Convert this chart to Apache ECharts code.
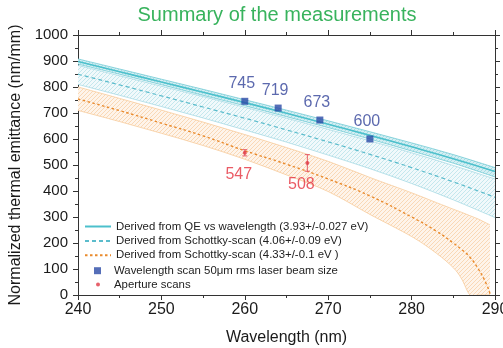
<!DOCTYPE html>
<html><head><meta charset="utf-8">
<script src="https://cdn.jsdelivr.net/npm/echarts/dist/echarts.min.js"></script>
<style>html,body{margin:0;padding:0;background:#fff}#c{width:503px;height:348px}</style>
</head><body><div id="c"></div>
<script>
// ---- data ----
const wl      = [240, 245, 250, 255, 260, 265, 270, 275, 280, 285, 290];
const qeMid   = [898, 859, 819, 780, 740, 699, 657, 614, 570, 524, 475];
const qeHi    = [908, 869, 830, 791, 751, 711, 670, 628, 585, 540, 490];
const qeLo    = [888, 849, 809, 768, 728, 686, 644, 600, 554, 507, 454];
const s1Mid   = [849, 808, 766, 723, 680, 635, 589, 541, 490, 435, 376];
const s1Hi    = [883, 843, 803, 763, 722, 680, 637, 593, 547, 498, 446];
const s1Lo    = [810, 768, 725, 681, 635, 588, 538, 486, 429, 366, 298];
const owl     = [240, 245, 250, 255, 260, 265, 270, 275, 280, 283, 285, 286, 287, 288, 289, 289.4];
const oMid    = [754, 709, 661, 612, 555, 503, 446, 381, 300, 245, 200, 175, 145, 100, 40, 5];
const oHi     = [800, 756, 711, 665, 617, 567, 514, 452, 393, 355, 330, 318, 305, 292, 276, 270];
const oLo     = [710, 667, 622, 575, 522, 462, 398, 310, 225, 160, 105, 62, 0, 0, 0, 0];
const wsX     = [260, 264, 269, 275];
const wsY     = [745, 719, 673, 600];
const apX     = [260, 267.5];
const apY     = [547, 508];
const apLo    = [535, 476];
const apHi    = [559, 540];
const xTicks  = [240, 250, 260, 270, 280, 290];
const yTicks  = [0, 100, 200, 300, 400, 500, 600, 700, 800, 900, 1000];

const L1 = 'Derived from QE vs wavelength (3.93+/-0.027 eV)';
const L2 = 'Derived from Schottky-scan (4.06+/-0.09 eV)';
const L3 = 'Derived from Schottky-scan (4.33+/-0.1 eV )';
const L4 = 'Wavelength scan 50\u03bcm rms laser beam size';
const L5 = 'Aperture scans';

const F = "'Liberation Sans', Arial, Helvetica, sans-serif";
function pts(xs, ys) { return xs.map((x, i) => [x, ys[i]]); }
function pattern(bg, fg) {
  const c = document.createElement('canvas'); c.width = 4; c.height = 4;
  const g = c.getContext('2d');
  g.fillStyle = bg; g.fillRect(0, 0, 4, 4);
  g.strokeStyle = fg; g.lineWidth = 0.7;
  g.beginPath();
  g.moveTo(0, 4); g.lineTo(4, 0);
  g.moveTo(-1, 1); g.lineTo(1, -1);
  g.moveTo(3, 5); g.lineTo(5, 3);
  g.stroke();
  return { image: c, repeat: 'repeat' };
}
// Catmull-Rom path through pixel points
function spline(p, cmd) {
  let d = cmd + p[0][0].toFixed(2) + ',' + p[0][1].toFixed(2);
  for (let i = 0; i < p.length - 1; i++) {
    const p0 = p[Math.max(i - 1, 0)], p1 = p[i], p2 = p[i + 1], p3 = p[Math.min(i + 2, p.length - 1)];
    const c1x = p1[0] + (p2[0] - p0[0]) / 6, c1y = p1[1] + (p2[1] - p0[1]) / 6;
    const c2x = p2[0] - (p3[0] - p1[0]) / 6, c2y = p2[1] - (p3[1] - p1[1]) / 6;
    d += 'C' + c1x.toFixed(2) + ',' + c1y.toFixed(2) + ' ' + c2x.toFixed(2) + ',' + c2y.toFixed(2) + ' ' +
         p2[0].toFixed(2) + ',' + p2[1].toFixed(2);
  }
  return d;
}
function band(xs, lo, hi, fill, edge, z) {
  return {
    type: 'custom', z: z, silent: true, clip: true, data: [[xs[0], lo[0]]],
    renderItem: function (params, api) {
      const up = xs.map((x, i) => api.coord([x, hi[i]]));
      const dn = xs.map((x, i) => api.coord([x, lo[i]]));
      const dnR = dn.slice().reverse();
      const area = spline(up, 'M') + spline(dnR, 'L') + 'Z';
      return { type: 'group', children: [
        { type: 'path', shape: { pathData: area }, style: { fill: fill, stroke: null } },
        { type: 'path', shape: { pathData: spline(up, 'M') }, style: { fill: null, stroke: edge, lineWidth: 0.8 } },
        { type: 'path', shape: { pathData: spline(dn, 'M') }, style: { fill: null, stroke: edge, lineWidth: 0.8 } }
      ] };
    }
  };
}
function axisCommon(extra) {
  return Object.assign({
    type: 'value',
    axisLine: { show: true, onZero: false, lineStyle: { color: '#333', width: 1 } },
    axisTick: { show: true, length: 5, lineStyle: { color: '#333' } },
    minorTick: { show: true, splitNumber: 2, length: 3, lineStyle: { color: '#333' } },
    splitLine: { show: false }
  }, extra);
}

const chart = echarts.init(document.getElementById('c'), null, { renderer: 'canvas' });
const series = [
  band(owl, oLo, oHi, pattern('#fef4ea', '#f7cc9f'), '#f7cc9c', 1),
  band(wl, s1Lo, s1Hi, pattern('#f1f9fb', '#b0dfe7'), '#a8dbe4', 2),
  band(wl, qeLo, qeHi, pattern('#d4eff3', '#92d4dd'), '#74cbd6', 3),
  { name: L1, type: 'line', data: pts(wl, qeMid), smooth: true, symbol: 'none',
    lineStyle: { color: '#4cc0cc', width: 1.6 }, z: 4, silent: true },
  { name: L2, type: 'line', data: pts(wl, s1Mid), smooth: true, symbol: 'none',
    lineStyle: { color: '#5bbccc', width: 1.2, type: [4, 3] }, z: 4, silent: true },
  { name: L3, type: 'line', data: pts(owl, oMid), smooth: true, symbol: 'none',
    lineStyle: { color: '#e98a2c', width: 1.4, type: [2.5, 2.5] }, z: 4, silent: true },
  { name: 'errbars', type: 'custom', z: 5, silent: true,
    data: apX.map((x, i) => [x, apLo[i], apHi[i]]),
    renderItem: function (params, api) {
      const t = api.coord([api.value(0), api.value(2)]);
      const b = api.coord([api.value(0), api.value(1)]);
      const st = { stroke: '#e6606c', lineWidth: 1 };
      return { type: 'group', children: [
        { type: 'line', shape: { x1: t[0], y1: t[1], x2: b[0], y2: b[1] }, style: st },
        { type: 'line', shape: { x1: t[0] - 2.5, y1: t[1], x2: t[0] + 2.5, y2: t[1] }, style: st },
        { type: 'line', shape: { x1: b[0] - 2.5, y1: b[1], x2: b[0] + 2.5, y2: b[1] }, style: st }
      ] };
    } },
  { name: L4, type: 'scatter', data: pts(wsX, wsY), symbol: 'rect', symbolSize: 7,
    itemStyle: { color: '#2a4aa6' }, z: 6, silent: true,
    label: { show: true, position: 'top', distance: 6, offset: [-3, 0], formatter: p => String(p.value[1]),
             color: '#33439a', fontSize: 16, fontFamily: F } },
  { name: L5, type: 'scatter', data: pts(apX, apY), symbol: 'circle', symbolSize: 4,
    itemStyle: { color: '#e03a46' }, z: 7, silent: true,
    label: { show: true, position: 'bottom', distance: 12, offset: [-6, 0], formatter: p => String(p.value[1]),
             color: '#e5323e', fontSize: 16, fontFamily: F } }
];

const legText = { fontSize: 11.4, fontFamily: F, color: '#222', lineHeight: 14 };
chart.setOption({
  animation: false,
  backgroundColor: '#fff',
  title: { text: 'Summary of the measurements', left: 272, top: 0, textAlign: 'center',
           textStyle: { fontSize: 20, fontWeight: 'normal', color: '#38b35d', fontFamily: F } },
  grid: { left: 78, right: 8, top: 35, bottom: 53, outerBoundsMode: 'none', containLabel: false },
  legend: [
    { data: [L1, L2, L3], orient: 'vertical', left: 84, top: 219.5, padding: 0, itemWidth: 26, itemHeight: 14,
      itemGap: 0.4, textStyle: legText, itemStyle: { opacity: 0 }, selectedMode: false },
    { data: [{ name: L4, icon: 'rect' }], orient: 'vertical', left: 94, top: 263.7, padding: 0, itemWidth: 7, itemHeight: 7,
      textStyle: Object.assign({ padding: [0, 0, 0, 8] }, legText), selectedMode: false },
    { data: [{ name: L5, icon: 'circle' }], orient: 'vertical', left: 96, top: 277.5, padding: 0, itemWidth: 4, itemHeight: 4,
      textStyle: Object.assign({ padding: [0, 0, 0, 9] }, legText), selectedMode: false }
  ],
  xAxis: [
    axisCommon({ min: xTicks[0], max: xTicks[xTicks.length - 1], interval: 10, position: 'bottom',
      axisLabel: { fontSize: 16, color: '#1a1a1a', fontFamily: F, margin: 7, showMinLabel: true, showMaxLabel: true,
                   formatter: v => String(v) },
      name: 'Wavelength (nm)', nameLocation: 'middle', nameGap: 35,
      nameTextStyle: { fontSize: 16, color: '#1a1a1a', fontFamily: F } }),
    axisCommon({ min: xTicks[0], max: xTicks[xTicks.length - 1], interval: 10, position: 'top',
      axisLabel: { show: false } })
  ],
  yAxis: [
    axisCommon({ min: yTicks[0], max: yTicks[yTicks.length - 1], interval: 100, position: 'left',
      axisLabel: { fontSize: 15, color: '#1a1a1a', fontFamily: F, margin: 10, showMinLabel: true, showMaxLabel: true,
                   formatter: v => String(v) },
      name: 'Normalized thermal emittance (nm/mm)', nameLocation: 'middle', nameGap: 34,
      nameTextStyle: { fontSize: 16, color: '#1a1a1a', fontFamily: F } }),
    axisCommon({ min: yTicks[0], max: yTicks[yTicks.length - 1], interval: 100, position: 'right',
      axisLabel: { show: false } })
  ],
  series: series
});
</script></body></html>
